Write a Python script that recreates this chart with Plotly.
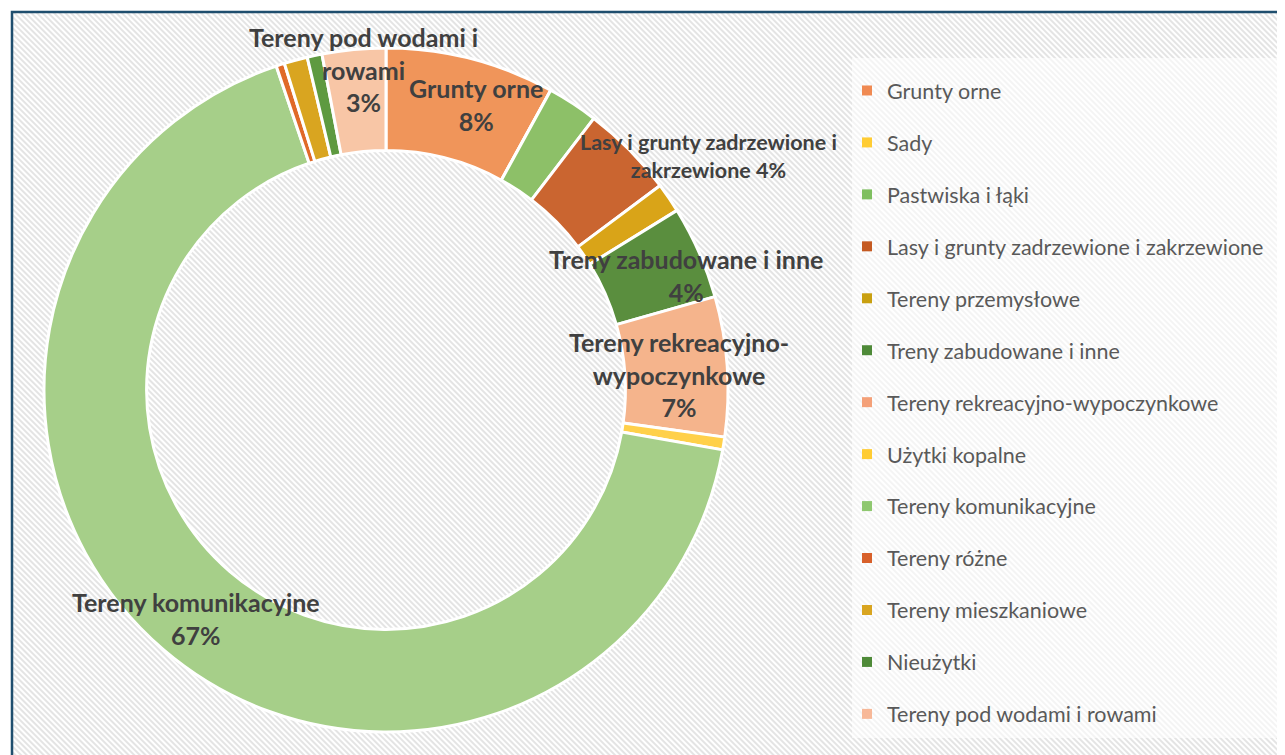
import base64
import plotly.graph_objects as go

categories = [
    "Grunty orne", "Sady", "Pastwiska i łąki",
    "Lasy i grunty zadrzewione i zakrzewione", "Tereny przemysłowe",
    "Treny zabudowane i inne", "Tereny rekreacyjno-wypoczynkowe",
    "Użytki kopalne", "Tereny komunikacyjne", "Tereny różne",
    "Tereny mieszkaniowe", "Nieużytki", "Tereny pod wodami i rowami",
]
values = [8.0, 0.0, 2.4, 4.4, 1.4, 4.4, 6.6, 0.6, 67.0, 0.4, 1.1, 0.7, 3.0]
colors = [
    "#F0955A", "#FFC93C", "#8DC068", "#CA6530", "#D9A418", "#5A8E3E",
    "#F5B48C", "#FFD04A", "#A6CF89", "#E06A28", "#D9A520", "#5E9A40",
    "#F8C6A6",
]
legend_colors = [
    "#F08A52", "#FFCC33", "#7FBF60", "#C55A22", "#C9A010", "#4E8A38",
    "#F4A078", "#FFCC33", "#8FC870", "#D8602A", "#D9A520", "#4E8A38",
    "#F7B898",
]

total = sum(values)
pct = {c: round(v / total * 100) for c, v in zip(categories, values)}

W, H = 1285, 755
OFF = 8  # page body margin


def px(x, y):
    return (x - OFF) / W, 1 - (y - OFF) / H


labels_cfg = [
    ("Tereny pod wodami i rowami", "Tereny pod wodami i<br>rowami<br>{p}%", 363, 70, 25),
    ("Grunty orne", "Grunty orne<br>{p}%", 476, 105, 25),
    ("Lasy i grunty zadrzewione i zakrzewione",
     "Lasy i grunty zadrzewione i<br>zakrzewione {p}%", 709, 156, 21.5),
    ("Treny zabudowane i inne", "Treny zabudowane i inne<br>{p}%", 686, 275, 25),
    ("Tereny rekreacyjno-wypoczynkowe",
     "Tereny rekreacyjno-<br>wypoczynkowe<br>{p}%", 679, 374, 25),
    ("Tereny komunikacyjne", "Tereny komunikacyjne<br>{p}%", 196, 618, 25),
]

fig = go.Figure()

cx, cy, R = 386, 390, 342
x0, y1 = px(cx - R, cy - R)
x1, y0 = px(cx + R, cy + R)
fig.add_trace(go.Pie(
    labels=categories, values=values, sort=False, direction="clockwise",
    rotation=0, hole=0.70, textinfo="none", showlegend=False,
    marker=dict(colors=colors, line=dict(color="white", width=3)),
    domain=dict(x=[x0, x1], y=[y0, y1]),
))

for c, col in zip(categories, legend_colors):
    fig.add_trace(go.Scatter(
        x=[None], y=[None], mode="markers", name=c, legendgroup=c,
        marker=dict(symbol="square", size=10, color=col),
    ))

for cat, tmpl, x, y, fs in labels_cfg:
    ax, ay = px(x, y)
    fig.add_annotation(
        x=ax, y=ay, xref="paper", yref="paper",
        text="<b>" + tmpl.format(p=pct[cat]) + "</b>", showarrow=False,
        font=dict(family="Lato", size=fs, color="#404040"),
        xanchor="center", yanchor="middle", align="center",
    )

svg = (
    '<svg xmlns="http://www.w3.org/2000/svg" width="1285" height="755">'
    '<defs><pattern id="p" width="4" height="4" patternUnits="userSpaceOnUse" '
    'patternTransform="rotate(-45)"><rect width="4" height="4" fill="#ffffff"/>'
    '<rect width="2" height="4" fill="#e4e4e4"/></pattern></defs>'
    '<rect width="100%" height="100%" fill="url(#p)"/></svg>'
)
src = "data:image/svg+xml;base64," + base64.b64encode(svg.encode()).decode()
bx, by = px(12, 12)
fig.add_layout_image(
    source=src, xref="paper", yref="paper", x=bx, y=by,
    sizex=1, sizey=1, sizing="stretch", xanchor="left", yanchor="top",
    layer="below",
)

lx0, ly1 = px(852, 58)
lx1, ly0 = px(1300, 738)
fig.add_shape(type="rect", xref="paper", yref="paper",
              x0=lx0, x1=lx1, y0=ly0, y1=ly1,
              fillcolor="rgba(255,255,255,0.6)", line=dict(width=0),
              layer="below")
fig.add_shape(type="rect", xref="paper", yref="paper",
              x0=bx, x1=1.05, y0=-0.05, y1=by,
              line=dict(color="#1F4E6E", width=2.5))

gx, gy = px(847, 70)
fig.update_layout(
    width=W, height=H, margin=dict(l=0, r=0, t=0, b=0),
    paper_bgcolor="white", plot_bgcolor="rgba(0,0,0,0)",
    xaxis=dict(visible=False), yaxis=dict(visible=False),
    legend=dict(
        x=gx, y=gy, xanchor="left", yanchor="top",
        font=dict(family="Lato", size=21.5, color="#595959"),
        bgcolor="rgba(0,0,0,0)", tracegroupgap=21, itemwidth=30,
    ),
)

fig.write_html("out.html")
